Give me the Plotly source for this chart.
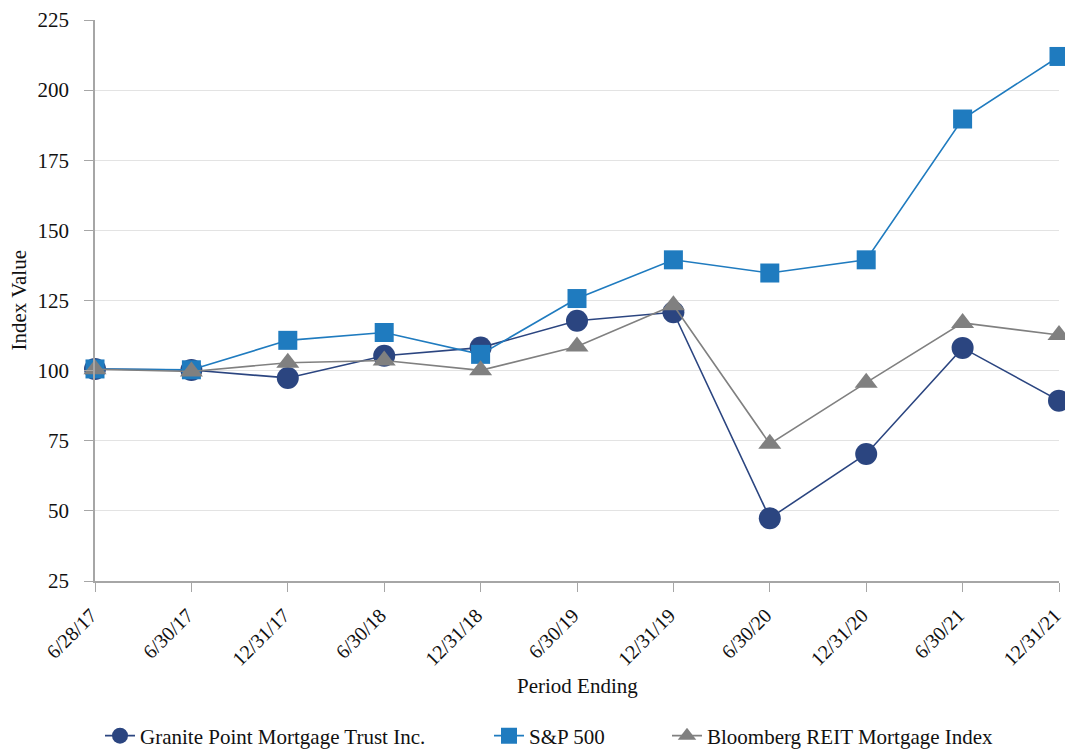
import plotly.graph_objects as go

periods = ["6/28/17", "6/30/17", "12/31/17", "6/30/18", "12/31/18", "6/30/19",
           "12/31/19", "6/30/20", "12/31/20", "6/30/21", "12/31/21"]
granite = [100.6, 100.2, 97.4, 105.3, 108.2, 117.8, 120.8, 47.4, 70.3, 108.1, 89.3]
sp500 = [100.6, 100.3, 110.8, 113.6, 105.8, 125.7, 139.5, 134.8, 139.5, 189.7, 212.0]
bloomberg = [100.5, 99.7, 102.8, 103.6, 100.1, 108.6, 123.3, 73.9, 95.7, 117.0, 112.7]

FONT = "Liberation Serif, Times New Roman, serif"
FS = 21
L, R, T, B = 95, 6, 20, 170
PW = 1065 - L - R
PH = 751 - T - B


def px_x(px):
    return (px - L) / PW


fig = go.Figure()
fig.add_trace(go.Scatter(x=periods, y=granite, name="Granite Point Mortgage Trust Inc.",
                         mode="lines+markers", cliponaxis=False, legend="legend",
                         line=dict(color="#2B4580", width=1.6),
                         marker=dict(symbol="circle", size=22, color="#2B4580")))
fig.add_trace(go.Scatter(x=periods, y=sp500, name="S&P 500",
                         mode="lines+markers", cliponaxis=False, legend="legend2",
                         line=dict(color="#1F7BBF", width=1.6),
                         marker=dict(symbol="square", size=19, color="#1F7BBF")))
fig.add_trace(go.Scatter(x=periods, y=bloomberg, name="Bloomberg REIT Mortgage Index",
                         mode="lines+markers", cliponaxis=False, legend="legend3",
                         line=dict(color="#808080", width=1.6),
                         marker=dict(symbol="triangle-up", size=20, color="#808080")))

leg_y = -(736 - (T + PH)) / PH
def leg(px):
    return dict(orientation="h", x=px_x(px), xanchor="left", y=leg_y, yanchor="middle",
                font=dict(family=FONT, size=FS), bgcolor="rgba(0,0,0,0)")

fig.update_layout(
    width=1065, height=751,
    margin=dict(l=L, r=R, t=T, b=B, autoexpand=False),
    paper_bgcolor="white", plot_bgcolor="white",
    font=dict(family=FONT, size=FS, color="#111111"),
    showlegend=True,
    legend=leg(100),
    legend2=leg(489),
    legend3=leg(667),
    xaxis=dict(type="category", range=[0, 10], tickangle=-45, automargin=False,
               showline=True, linecolor="#A6A6A6", linewidth=1.5,
               ticks="outside", ticklen=9, tickcolor="#A6A6A6",
               ticklabelshift=-4, ticklabelstandoff=4,
               showgrid=False, zeroline=False,
               tickfont=dict(family=FONT, size=20)),
    yaxis=dict(range=[25, 225], tickvals=[25, 50, 75, 100, 125, 150, 175, 200, 225],
               automargin=False,
               showline=True, linecolor="#A6A6A6", linewidth=1.5,
               ticks="outside", ticklen=9, tickcolor="#A6A6A6",
               ticklabelstandoff=11,
               showgrid=True, gridcolor="#E3E3E3", gridwidth=1.2, zeroline=False,
               tickfont=dict(family=FONT, size=FS)),
    annotations=[
        dict(text="Period Ending", xref="paper", yref="paper", x=0.5, y=-(686 - (T + PH)) / PH,
             xanchor="center", yanchor="middle", showarrow=False,
             font=dict(family=FONT, size=FS)),
        dict(text="Index Value", xref="paper", yref="paper", x=px_x(18), y=0.5,
             xanchor="center", yanchor="middle", textangle=-90, showarrow=False,
             font=dict(family=FONT, size=FS)),
    ],
)

fig.write_html("out.html", config={"displayModeBar": False},
               post_script="document.body.style.margin='0';document.body.style.overflow='hidden';")
